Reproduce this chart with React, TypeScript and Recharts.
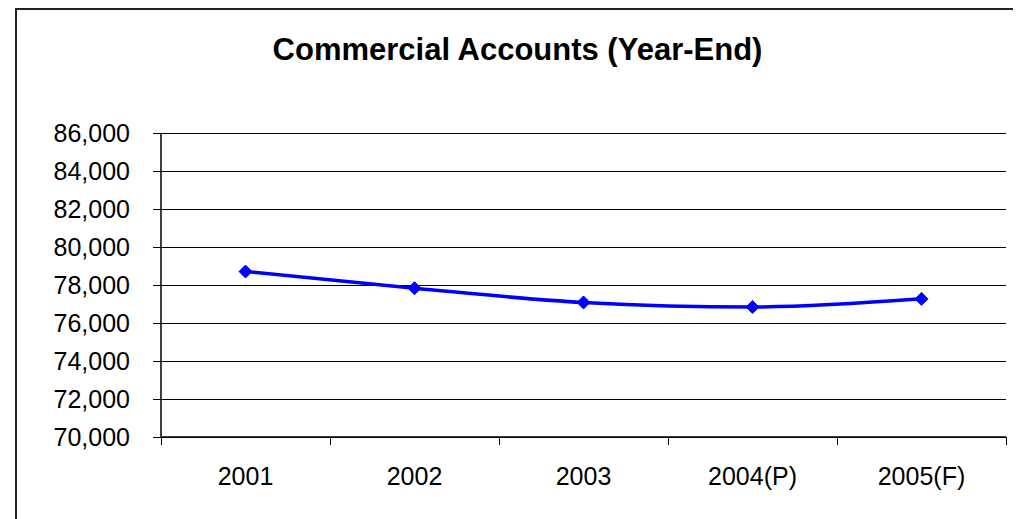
import React from 'react';
import { LineChart, Line, XAxis, YAxis, CartesianGrid } from 'recharts';

const categories = ['2001', '2002', '2003', '2004(P)', '2005(F)'];
const accounts = [78710, 77830, 77080, 76840, 77270];
const yTicks = [70000, 72000, 74000, 76000, 78000, 80000, 82000, 84000, 86000];
const title = 'Commercial Accounts (Year-End)';

const data = categories.map((c, i) => ({ year: c, value: accounts[i] }));

const W = 1013;
const H = 511;
const PLOT_LEFT = 153;
const PLOT_RIGHT = 998;
const BAND = (PLOT_RIGHT - PLOT_LEFT) / categories.length;
const FONT = '"Liberation Sans", Arial, sans-serif';

const XTick = (props: any) => {
  const { x, y, payload, index, visibleTicksCount } = props;
  const tickSize = 8;
  const tickMargin = 22;
  const axisY = y - tickSize - tickMargin;
  const half = BAND / 2;
  return (
    <g>
      <line x1={x - half} x2={x - half} y1={axisY} y2={axisY + tickSize} stroke="#000" strokeWidth={1} shapeRendering="crispEdges" />
      {index === visibleTicksCount - 1 && (
        <line x1={x + half} x2={x + half} y1={axisY} y2={axisY + tickSize} stroke="#000" strokeWidth={1} shapeRendering="crispEdges" />
      )}
      <text x={x} y={y} dy="0.71em" textAnchor="middle" fontSize={25} fontFamily={FONT} fill="#000">
        {payload.value}
      </text>
    </g>
  );
};

const Diamond = (props: any) => {
  const { cx, cy } = props;
  if (cx == null || cy == null) return null;
  const r = 6.5;
  return (
    <path
      d={`M${cx},${cy - r} L${cx + r},${cy} L${cx},${cy + r} L${cx - r},${cy} Z`}
      fill="#0000FF"
      stroke="#0000FF"
      strokeWidth={1}
    />
  );
};

export default function App() {
  return (
    <div style={{ position: 'relative', width: W, height: H, overflow: 'hidden', background: '#fff' }}>
      <div
        style={{
          position: 'absolute',
          left: 7,
          top: 0,
          width: 1100,
          height: 700,
          border: '2px solid #222',
          boxSizing: 'border-box',
        }}
      />
      <LineChart
        width={W}
        height={H}
        data={data}
        margin={{ top: 125, right: 15, left: 0, bottom: 42 }}
        style={{ position: 'absolute', left: 0, top: 0 }}
      >
        <CartesianGrid vertical={false} stroke="#000" strokeWidth={1} shapeRendering="crispEdges" />
        <XAxis
          dataKey="year"
          height={40}
          padding={{ left: BAND / 2, right: BAND / 2 }}
          tickSize={8}
          tickMargin={22}
          tickLine={{ stroke: 'none' }}
          axisLine={{ stroke: '#000', strokeWidth: 1.5 }}
          tick={<XTick />}
          interval={0}
        />
        <XAxis
          xAxisId="t"
          dataKey="year"
          orientation="top"
          height={0}
          tick={false}
          tickLine={false}
          axisLine={{ stroke: '#808080', strokeWidth: 1.5 }}
        />
        <YAxis
          width={PLOT_LEFT}
          domain={[70000, 86000]}
          ticks={yTicks}
          interval={0}
          tickSize={8}
          tickMargin={23}
          tickLine={{ stroke: '#000', shapeRendering: 'crispEdges' }}
          axisLine={{ stroke: '#000', strokeWidth: 1.5 }}
          tick={{ fontSize: 25, fontFamily: FONT, fill: '#000' }}
          tickFormatter={(v: number) => v.toLocaleString('en-US')}
        />
        <YAxis
          yAxisId="r"
          orientation="right"
          width={0}
          domain={[70000, 86000]}
          tick={false}
          tickLine={false}
          axisLine={{ stroke: '#808080', strokeWidth: 2 }}
        />
        <Line
          type="monotone"
          dataKey="value"
          stroke="#0000FF"
          strokeWidth={3.5}
          dot={<Diamond />}
          activeDot={false}
          isAnimationActive={false}
        />
      </LineChart>
      <svg
        width={W}
        height={H}
        style={{ position: 'absolute', left: 0, top: 0, pointerEvents: 'none' }}
      >
        <text x={509.5} y={52} textAnchor="middle" fontSize={31} fontWeight="bold" fontFamily={FONT} fill="#000">
          {title}
        </text>
      </svg>
    </div>
  );
}
